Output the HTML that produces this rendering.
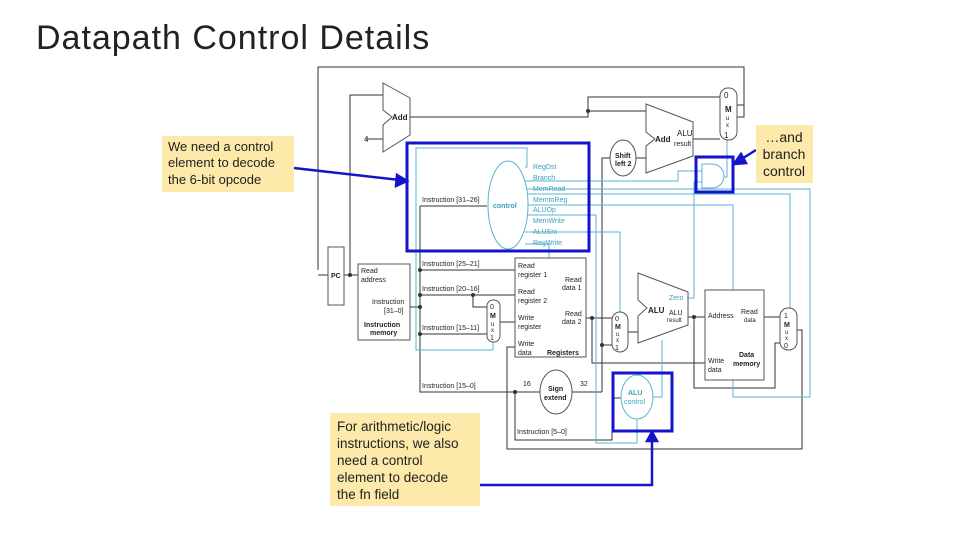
<!DOCTYPE html>
<html><head><meta charset="utf-8"><style>
body{margin:0;width:960px;height:540px;background:#fff;overflow:hidden;font-family:"Liberation Sans",sans-serif}
svg{position:absolute;left:0;top:0}
</style></head><body>
<svg width="960" height="540" viewBox="0 0 960 540" xmlns="http://www.w3.org/2000/svg" font-family="Liberation Sans, sans-serif">
<text x="36" y="49" font-size="34" fill="#222" letter-spacing="0.8" textLength="394">Datapath Control Details</text>

<g fill="none" stroke="#333" stroke-width="1">
<polyline points="318,270 318,67 744,67 744,117 737,117"/>
<polyline points="328,275 318,275"/>
<polyline points="350,275 350,95 383,95"/>
<line x1="366" y1="139" x2="383" y2="139"/>
<polyline points="410,117 588,117 588,97 720,97"/>
<line x1="588" y1="111" x2="646" y2="111"/>
<line x1="693" y1="139" x2="720" y2="139"/>
<line x1="636" y1="158" x2="646" y2="158"/>
<polyline points="602,392 602,158 610,158"/>
<line x1="344" y1="275" x2="358" y2="275"/>
<line x1="410" y1="307" x2="420" y2="307"/>
<polyline points="420,206 420,392 540,392"/>
<line x1="420" y1="206" x2="487" y2="206"/>
<line x1="420" y1="270" x2="515" y2="270"/>
<line x1="420" y1="295" x2="515" y2="295"/>
<polyline points="473,295 473,307 487,307"/>
<line x1="420" y1="334" x2="487" y2="334"/>
<line x1="500" y1="322" x2="515" y2="322"/>
<polyline points="515,392 515,440 612,440 612,398 621,398"/>
<polyline points="572,392 602,392"/>
<line x1="602" y1="345" x2="612" y2="345"/>
<line x1="586" y1="318" x2="612" y2="318"/>
<polyline points="592,318 592,363 705,363"/>
<line x1="628" y1="332" x2="638" y2="332"/>
<line x1="688" y1="317" x2="705" y2="317"/>
<polyline points="694,317 694,388 775,388 775,343 780,343"/>
<line x1="764" y1="317" x2="780" y2="317"/>
<polyline points="797,330 802,330 802,449 507,449 507,347 515,347"/>
<polyline points="737,105 744,105"/>
</g>
<g fill="#333">
<circle cx="588" cy="111" r="2"/><circle cx="350" cy="275" r="2"/><circle cx="420" cy="307" r="2"/>
<circle cx="420" cy="270" r="2"/><circle cx="420" cy="295" r="2"/><circle cx="420" cy="334" r="2"/>
<circle cx="473" cy="295" r="2"/><circle cx="515" cy="392" r="2"/><circle cx="592" cy="318" r="2"/>
<circle cx="602" cy="345" r="2"/><circle cx="694" cy="317" r="2"/>
</g>

<g fill="none" stroke="#5ab4d0" stroke-width="1">
<polyline points="525,167 527,167 527,148 416,148 416,350 493,350 493,342"/>
<polyline points="525,181 678,181 678,171 702,171"/>
<polyline points="525,189 810,189 810,397 733,397 733,380"/>
<polyline points="525,194 790,194 790,308"/>
<polyline points="525,205 733,205 733,290"/>
<polyline points="525,215 596,215 596,443 637,443 637,419"/>
<polyline points="525,232 620,232 620,312"/>
<polyline points="525,244 549,244 549,258"/>
<polyline points="688,298 694,298 694,182 702,182"/>
<polyline points="653,397 662,397 662,340"/>
<polyline points="722,177 727,177 727,140"/>
</g>

<g fill="#fff" stroke="#555" stroke-width="1">
<polygon points="383,83 410,98 410,135 383,152 383,125 392,117 383,110"/>
<polygon points="646,104 693,122 693,156 646,173 646,146 655,139 646,132"/>
<polygon points="638,273 688,292 688,325 638,343 638,316 647,308 638,300"/>
<rect x="328" y="247" width="16" height="58"/>
<rect x="358" y="264" width="52" height="76"/>
<rect x="515" y="258" width="71" height="99"/>
<rect x="705" y="290" width="59" height="90"/>
<rect x="720" y="88" width="17" height="52" rx="8"/>
<rect x="487" y="300" width="13" height="42" rx="6"/>
<rect x="612" y="312" width="16" height="40" rx="8"/>
<rect x="780" y="308" width="17" height="42" rx="8"/>
<ellipse cx="623" cy="158" rx="13" ry="18"/>
<ellipse cx="556" cy="392" rx="16" ry="22"/>
</g>
<ellipse cx="508" cy="205" rx="20" ry="44" fill="#fff" stroke="#5ab4d0"/>
<ellipse cx="637" cy="397" rx="16" ry="22" fill="#fff" stroke="#5ab4d0"/>
<path d="M702,164 h10 a12,12 0 0 1 0,24 h-10 z" fill="#fff" stroke="#5ab4d0"/>

<g font-size="8" fill="#222">
<text x="392" y="120" font-weight="bold">Add</text>
<text x="364" y="142">4</text>
<text x="655" y="142" font-weight="bold">Add</text>
<text x="677" y="136">ALU</text><text x="674" y="146" font-size="7">result</text>
<text x="724" y="98">0</text><text x="725" y="112" font-weight="bold">M</text><text x="726" y="120" font-size="6">u</text><text x="726" y="127" font-size="6">x</text><text x="724" y="138">1</text>
<text x="615" y="158" font-weight="bold" font-size="7">Shift</text><text x="615" y="166" font-size="7" font-weight="bold">left 2</text>
<text x="331" y="278" font-weight="bold" font-size="7">PC</text>
<text x="361" y="273" font-size="7">Read</text><text x="361" y="282" font-size="7">address</text>
<text x="372" y="304" font-size="7">Instruction</text><text x="384" y="313" font-size="7">[31–0]</text>
<text x="364" y="327" font-size="7" font-weight="bold">Instruction</text><text x="370" y="335" font-size="7" font-weight="bold">memory</text>
<text x="422" y="202" font-size="7">Instruction [31–26]</text>
<text x="422" y="266" font-size="7">Instruction [25–21]</text>
<text x="422" y="291" font-size="7">Instruction [20–16]</text>
<text x="422" y="330" font-size="7">Instruction [15–11]</text>
<text x="422" y="388" font-size="7">Instruction [15–0]</text>
<text x="517" y="434" font-size="7">Instruction [5–0]</text>
<text x="490" y="309" font-size="7">0</text><text x="490" y="318" font-size="7" font-weight="bold">M</text><text x="491" y="326" font-size="6">u</text><text x="491" y="332" font-size="6">x</text><text x="490" y="340" font-size="7">1</text>
<text x="518" y="268" font-size="7">Read</text><text x="518" y="277" font-size="7">register 1</text>
<text x="518" y="294" font-size="7">Read</text><text x="518" y="303" font-size="7">register 2</text>
<text x="518" y="320" font-size="7">Write</text><text x="518" y="329" font-size="7">register</text>
<text x="518" y="346" font-size="7">Write</text><text x="518" y="355" font-size="7">data</text>
<text x="565" y="282" font-size="7">Read</text><text x="562" y="290" font-size="7">data 1</text>
<text x="565" y="316" font-size="7">Read</text><text x="562" y="324" font-size="7">data 2</text>
<text x="547" y="355" font-size="7" font-weight="bold">Registers</text>
<text x="523" y="386" font-size="7">16</text><text x="580" y="386" font-size="7">32</text>
<text x="548" y="391" font-size="7" font-weight="bold">Sign</text><text x="544" y="400" font-size="7" font-weight="bold">extend</text>
<text x="615" y="321" font-size="7">0</text><text x="615" y="329" font-size="7" font-weight="bold">M</text><text x="616" y="336" font-size="6">u</text><text x="616" y="342" font-size="6">x</text><text x="615" y="350" font-size="7">1</text>
<text x="648" y="313" font-weight="bold">ALU</text><text x="669" y="315" font-size="7">ALU</text><text x="667" y="322" font-size="6">result</text>
<text x="669" y="300" font-size="7" fill="#3aa0c0">Zero</text>
<text x="708" y="318" font-size="7">Address</text>
<text x="741" y="314" font-size="7">Read</text><text x="744" y="322" font-size="6">data</text>
<text x="708" y="363" font-size="7">Write</text><text x="708" y="372" font-size="7">data</text>
<text x="739" y="357" font-size="7" font-weight="bold">Data</text><text x="733" y="366" font-size="7" font-weight="bold">memory</text>
<text x="784" y="318" font-size="7">1</text><text x="784" y="327" font-size="7" font-weight="bold">M</text><text x="785" y="334" font-size="6">u</text><text x="785" y="340" font-size="6">x</text><text x="784" y="348" font-size="7">0</text>
</g>
<g font-size="7" fill="#3aa0c0">
<text x="493" y="208" font-weight="bold">control</text>
<text x="533" y="169">RegDst</text><text x="533" y="180">Branch</text><text x="533" y="191">MemRead</text>
<text x="533" y="202">MemtoReg</text><text x="533" y="212">ALUOp</text><text x="533" y="223">MemWrite</text>
<text x="533" y="234">ALUSrc</text><text x="533" y="245">RegWrite</text>
<text x="628" y="395" font-weight="bold">ALU</text><text x="624" y="404">control</text>
</g>

<g fill="none" stroke="#1414c8" stroke-width="3">
<rect x="407" y="143" width="182" height="108"/>
<rect x="696" y="157" width="37" height="35"/>
<rect x="613" y="373" width="59" height="58"/>
</g>
<g stroke="#1414c8" stroke-width="2.5" fill="#1414c8">
<line x1="294" y1="168" x2="400" y2="180"/><polygon points="407,181 397,175 396,186"/>
<line x1="756" y1="150" x2="740" y2="160"/><polygon points="734,164 741,154 746,163"/>
<polyline points="480,485 652,485 652,440" fill="none"/><polygon points="652,432 647,441 657,441"/>
</g>

<rect x="162" y="136" width="132" height="56" fill="#fde9a9"/>
<text font-size="13" fill="#222"><tspan x="168" y="151">We need a control</tspan><tspan x="168" y="167">element to decode</tspan><tspan x="168" y="184">the 6-bit opcode</tspan></text>
<rect x="756" y="125" width="57" height="58" fill="#fde9a9"/>
<text font-size="14" fill="#222" text-anchor="middle"><tspan x="784" y="142">…and</tspan><tspan x="784" y="159">branch</tspan><tspan x="784" y="176">control</tspan></text>
<rect x="330" y="413" width="150" height="93" fill="#fde9a9"/>
<text font-size="13.5" fill="#222"><tspan x="337" y="431">For arithmetic/logic</tspan><tspan x="337" y="448">instructions, we also</tspan><tspan x="337" y="465">need a control</tspan><tspan x="337" y="482">element to decode</tspan><tspan x="337" y="499">the fn field</tspan></text>
</svg>
</body></html>
